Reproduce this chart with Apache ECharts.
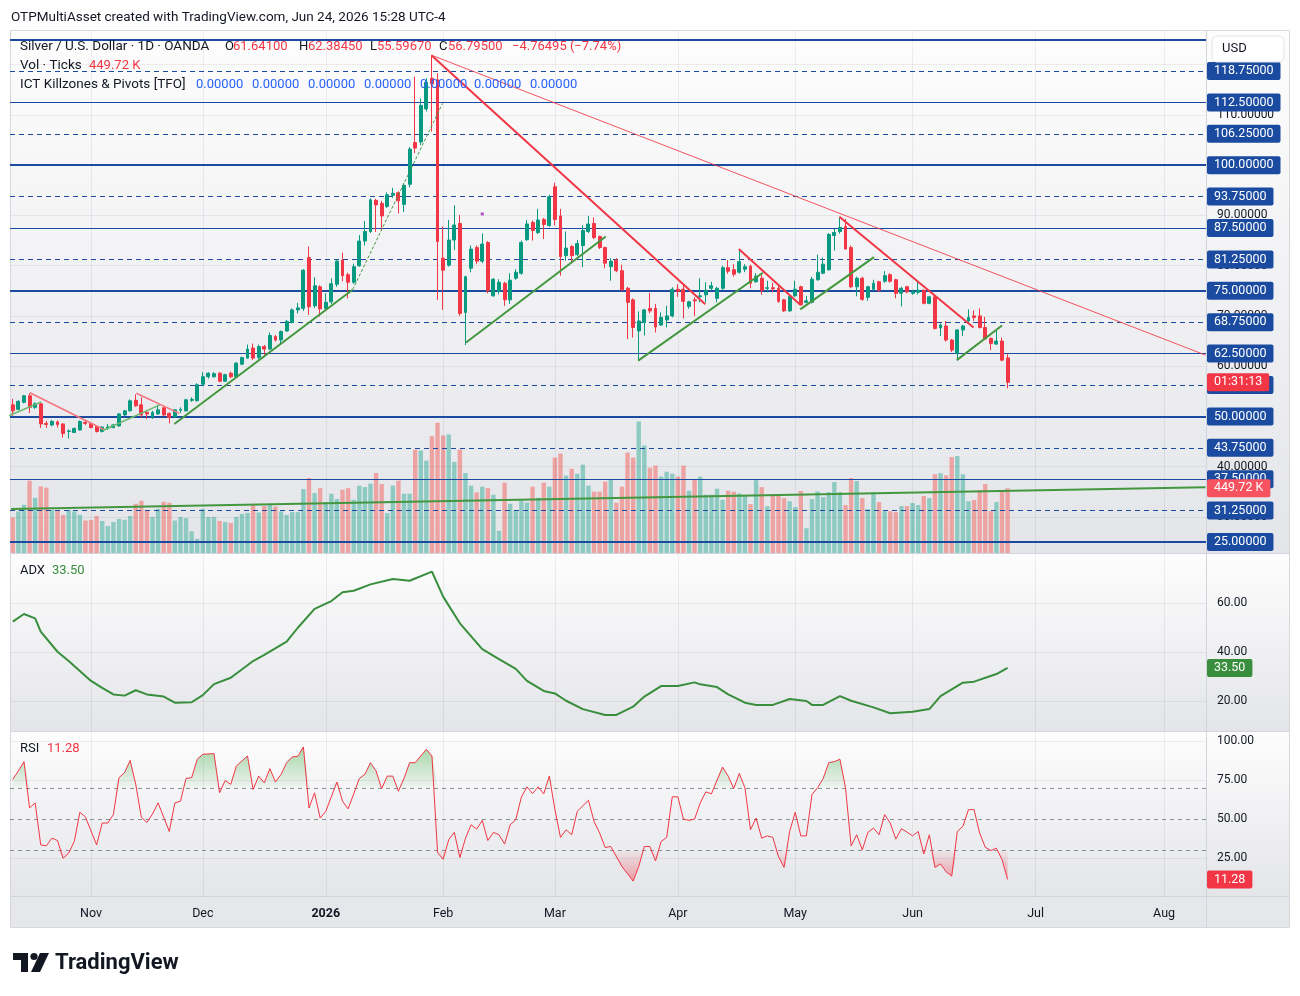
<!DOCTYPE html>
<html>
<head>
<meta charset="utf-8">
<title>Silver / U.S. Dollar - 1D</title>
<script src="https://cdn.jsdelivr.net/npm/echarts@6/dist/echarts.min.js"></script>
<style>
  html, body { margin: 0; padding: 0; background: #ffffff; }
  #chart { width: 1300px; height: 996px; }
</style>
</head>
<body>
<div id="chart"></div>
<script>
// ---- data ----
const N = 214; // bar slots on the time axis, incl. empty space to the right
const monthIdx = [14, 34, 56, 77, 97, 119, 140, 161, 183, 206];
const monthNames = ['Nov', 'Dec', '2026', 'Feb', 'Mar', 'Apr', 'May', 'Jun', 'Jul', 'Aug'];

// [open, close, low, high] per daily bar
const candles = [
  [52.3, 51.1, 50.1, 53.5], [51.4, 53.0, 51.2, 53.2], [52.8, 54.1, 52.6, 54.3], [54.1, 51.8, 50.7, 54.6],
  [51.8, 52.5, 51.5, 52.8], [52.5, 48.5, 47.7, 52.6], [48.6, 48.4, 47.7, 49.1], [48.3, 49.0, 48.0, 49.3],
  [48.9, 48.4, 47.8, 49.2], [48.5, 46.6, 45.8, 48.6], [47.0, 47.1, 45.6, 47.4], [46.8, 47.6, 46.7, 47.8],
  [47.3, 49.0, 47.2, 49.2], [48.8, 48.6, 48.3, 49.3], [48.6, 47.8, 47.6, 48.8], [48.0, 47.0, 46.8, 48.2],
  [47.0, 47.9, 46.8, 48.0], [47.7, 47.9, 47.3, 48.5], [47.8, 48.3, 47.6, 48.5], [48.1, 50.5, 48.0, 50.6],
  [50.3, 51.1, 50.1, 51.3], [51.1, 53.1, 51.0, 53.4], [53.2, 52.1, 51.9, 54.4], [52.3, 50.3, 49.8, 53.8],
  [50.8, 50.5, 49.5, 51.1], [49.9, 50.8, 49.5, 51.1], [50.5, 51.3, 50.3, 52.3], [51.7, 50.3, 50.1, 51.9],
  [50.6, 49.8, 48.6, 50.8], [49.9, 51.3, 49.8, 51.4], [51.2, 51.4, 50.7, 51.8], [51.1, 53.3, 51.0, 53.5],
  [53.2, 53.4, 52.9, 53.8], [53.1, 56.3, 53.0, 56.6], [56.4, 57.9, 56.0, 58.8], [57.9, 58.6, 57.5, 58.8],
  [57.9, 58.5, 57.7, 58.8], [58.6, 57.0, 56.8, 58.8], [57.0, 58.3, 56.9, 58.5], [58.6, 57.9, 57.6, 58.9],
  [57.9, 60.6, 57.7, 60.8], [60.4, 61.7, 60.2, 61.9], [61.6, 63.4, 61.5, 64.3], [63.6, 61.6, 61.2, 64.5],
  [61.7, 63.9, 61.3, 64.3], [63.9, 63.4, 62.2, 64.2], [63.4, 66.1, 63.2, 66.7], [65.9, 65.2, 64.9, 66.2],
  [65.2, 66.9, 64.3, 67.1], [67.0, 68.9, 66.8, 69.2], [68.7, 71.2, 68.5, 71.5], [71.2, 71.6, 70.5, 72.6],
  [71.5, 79.1, 71.0, 79.3], [81.6, 71.8, 70.2, 83.8], [72.0, 76.0, 71.6, 77.7], [75.8, 71.4, 69.9, 76.1],
  [71.5, 72.7, 71.2, 74.5], [72.8, 76.4, 72.4, 77.5], [76.3, 80.9, 75.8, 81.3], [81.1, 78.0, 76.9, 82.6],
  [78.2, 76.7, 73.5, 78.6], [76.7, 79.8, 76.4, 80.4], [80.0, 84.9, 79.8, 86.1], [84.9, 86.8, 84.0, 88.9],
  [86.8, 93.1, 86.5, 93.4], [93.0, 92.1, 86.7, 93.3], [92.4, 89.9, 87.0, 92.9], [91.8, 94.1, 91.5, 94.6],
  [94.0, 94.4, 93.5, 95.5], [94.5, 92.9, 90.4, 94.8], [92.2, 96.0, 90.7, 96.4], [96.2, 103.2, 95.6, 103.6],
  [104.5, 103.4, 102.4, 117.6], [104.6, 111.9, 104.0, 113.3], [111.2, 116.5, 110.7, 117.3], [117.3, 116.2, 106.7, 121.9],
  [117.0, 84.8, 73.2, 118.3], [81.5, 79.1, 71.2, 87.8], [80.1, 85.1, 79.8, 89.1], [85.1, 88.1, 83.1, 92.0],
  [88.4, 70.5, 70.0, 90.1], [70.7, 77.8, 64.2, 78.0], [79.5, 83.3, 78.7, 84.0], [83.6, 80.9, 80.3, 84.0],
  [80.9, 84.3, 80.5, 86.4], [84.6, 75.0, 74.5, 84.9], [74.0, 77.3, 73.8, 77.5], [74.9, 76.7, 74.3, 77.3],
  [76.5, 73.2, 72.0, 76.8], [73.2, 77.1, 72.4, 78.5], [77.5, 78.7, 77.2, 79.3], [78.5, 84.6, 78.2, 85.0],
  [85.2, 88.3, 84.9, 89.1], [88.6, 87.0, 85.0, 89.0], [86.6, 89.1, 86.3, 91.3], [89.2, 88.2, 85.3, 89.5],
  [88.0, 93.7, 87.7, 94.1], [95.7, 89.2, 88.0, 96.5], [89.9, 81.8, 78.0, 91.3], [82.0, 83.5, 81.0, 86.8],
  [83.8, 82.0, 80.7, 84.1], [82.2, 84.4, 81.9, 85.1], [84.0, 87.0, 79.7, 88.0], [86.8, 88.3, 86.5, 89.9],
  [88.4, 85.6, 85.3, 89.6], [85.8, 83.6, 83.3, 86.0], [83.6, 80.5, 79.5, 83.8], [79.8, 80.9, 77.0, 81.5],
  [81.1, 79.0, 78.7, 81.5], [79.0, 75.2, 74.9, 80.2], [75.5, 72.7, 65.4, 75.8], [73.2, 67.7, 65.7, 73.5],
  [67.0, 69.0, 61.0, 70.9], [68.7, 71.2, 66.1, 71.4], [71.5, 71.0, 70.5, 74.6], [71.5, 67.8, 66.7, 72.4],
  [68.2, 69.7, 68.0, 70.7], [69.2, 70.0, 67.7, 72.0], [70.0, 75.3, 69.7, 75.7], [75.3, 74.9, 73.8, 76.3],
  [75.3, 72.9, 69.5, 76.3], [71.9, 72.8, 71.4, 73.0], [73.2, 73.0, 70.0, 73.7], [73.8, 74.0, 72.7, 77.5],
  [74.2, 75.1, 72.7, 76.7], [75.5, 76.0, 75.0, 76.8], [73.5, 75.5, 72.7, 75.8], [75.5, 79.6, 75.2, 80.0],
  [79.6, 78.9, 78.4, 81.1], [79.2, 78.3, 77.8, 80.3], [78.7, 80.8, 78.4, 83.1], [79.3, 79.8, 78.7, 80.3],
  [79.9, 76.5, 75.5, 80.2], [76.8, 77.9, 76.6, 78.5], [77.5, 75.1, 74.2, 78.2], [75.5, 75.6, 74.7, 77.0],
  [75.6, 75.4, 74.7, 76.6], [75.5, 72.9, 72.6, 76.3], [73.2, 71.0, 70.8, 73.4], [71.0, 73.9, 70.8, 74.1],
  [74.0, 75.3, 73.8, 77.0], [75.8, 72.2, 72.0, 76.0], [72.7, 73.0, 72.5, 74.0], [72.7, 77.3, 72.5, 77.8],
  [77.2, 78.7, 77.0, 82.2], [78.5, 80.3, 78.3, 81.6], [79.2, 86.2, 79.0, 86.5], [86.0, 86.6, 83.0, 87.3],
  [86.8, 87.6, 86.4, 89.5], [87.8, 83.3, 83.3, 89.3], [83.6, 75.8, 75.5, 84.0], [75.8, 77.5, 73.9, 77.8],
  [77.5, 73.3, 73.0, 77.8], [73.7, 75.8, 73.0, 76.0], [75.3, 76.5, 75.0, 77.2], [76.8, 75.1, 74.8, 77.0],
  [76.9, 78.0, 76.6, 78.9], [78.2, 76.9, 76.6, 78.5], [77.2, 74.5, 73.5, 77.4], [74.5, 75.5, 71.9, 75.8],
  [75.8, 74.8, 74.5, 76.0], [74.5, 74.9, 74.2, 75.2], [74.7, 75.1, 74.3, 77.0], [75.1, 72.5, 72.3, 75.3],
  [72.5, 73.8, 72.3, 74.0], [73.8, 67.5, 67.3, 74.0], [67.6, 68.2, 66.0, 68.5], [68.0, 65.2, 64.9, 69.0],
  [65.2, 63.2, 62.8, 65.4], [62.5, 67.2, 61.1, 67.4], [67.2, 68.0, 66.0, 68.2], [69.0, 69.7, 68.8, 71.3],
  [70.0, 69.7, 69.0, 71.1], [70.0, 67.7, 67.5, 71.5], [67.7, 65.4, 65.2, 69.8], [65.5, 64.5, 63.2, 65.7],
  [64.4, 65.0, 64.2, 67.0], [65.0, 61.2, 61.0, 65.7], [61.641, 56.795, 55.5967, 62.3845]
];

// tick volume, thousands
const volumes = [
  247, 289, 335, 503, 384, 463, 454, 300, 300, 265, 300, 289, 265, 226, 230, 258, 223, 188, 216, 237,
  230, 258, 342, 363, 300, 251, 307, 356, 349, 226, 251, 242, 151, 98, 307, 251, 251, 223, 216, 209,
  251, 272, 279, 335, 282, 328, 342, 323, 289, 265, 284, 284, 444, 521, 417, 451, 354, 412, 375, 440,
  451, 370, 468, 458, 482, 556, 479, 277, 468, 503, 412, 412, 719, 712, 642, 812, 905, 817, 824, 633,
  719, 556, 468, 421, 461, 451, 405, 154, 489, 342, 296, 363, 351, 461, 384, 489, 461, 663, 691, 538,
  586, 551, 614, 468, 426, 426, 496, 512, 349, 461, 698, 663, 914, 747, 593, 607, 531, 565, 551, 531,
  607, 433, 510, 531, 405, 405, 447, 370, 433, 426, 414, 403, 340, 507, 458, 325, 403, 403, 382, 360,
  319, 431, 172, 375, 428, 388, 423, 493, 423, 333, 521, 500, 382, 305, 421, 354, 291, 291, 284, 326,
  326, 347, 333, 396, 382, 547, 554, 540, 667, 674, 547, 360, 368, 437, 479, 291, 354, 437, 449.72
];

// ADX turning points [bar, value]
const adxPoints = [
  [0, 52.4], [2, 55.5], [4, 53.7], [5, 48.3], [8, 40.1], [10, 36.3], [14, 28.2], [16, 25.4], [18, 22.7],
  [20, 22.2], [22, 24.4], [24, 22.7], [27, 21.8], [29, 19.3], [32, 19.5], [34, 22.4], [36, 26.9], [39, 29.5],
  [43, 36.3], [45, 38.8], [49, 44.2], [51, 49.9], [54, 57.6], [57, 60.8], [59, 64.4], [61, 65.0], [64, 67.6],
  [68, 69.8], [71, 69.1], [75, 72.8], [77, 62.6], [80, 51.7], [84, 41.2], [87, 37.1], [90, 33.1], [92, 28.2],
  [95, 24.1], [97, 23.1], [99, 20.1], [102, 16.7], [106, 14.3], [108, 14.3], [111, 17.7], [113, 21.8],
  [116, 26.1], [119, 26.1], [122, 27.6], [123, 26.8], [126, 25.7], [128, 22.7], [131, 19.3], [133, 18.4],
  [136, 18.4], [139, 20.8], [142, 20.0], [143, 18.4], [145, 18.4], [148, 22.0], [150, 20.1], [154, 17.4],
  [157, 15.0], [161, 15.6], [164, 16.7], [166, 22.0], [170, 27.5], [172, 27.9], [176, 31.0], [178, 33.5]
];

// RSI turning points [bar, value]
const rsiPoints = [
  [0, 75.4], [1, 80.8], [2, 86.8], [3, 57.1], [4, 60.3], [5, 33.4], [6, 32.8], [7, 37.7], [8, 36.2], [9, 24.8],
  [10, 28.1], [11, 35.6], [12, 54.3], [13, 51.3], [15, 33.4], [16, 47.4], [17, 47.4], [18, 52.8], [19, 76.5],
  [20, 79.7], [21, 87.6], [22, 72.2], [23, 51.1], [24, 47.8], [25, 53.2], [26, 60.3], [28, 42.0], [29, 60.3],
  [30, 61.4], [31, 76.0], [32, 76.5], [33, 88.3], [34, 91.5], [36, 91.9], [37, 66.8], [38, 74.7], [39, 72.2],
  [40, 84.0], [42, 90.4], [43, 68.9], [44, 77.5], [45, 73.2], [46, 82.3], [47, 73.7], [48, 78.6], [49, 86.1],
  [50, 89.8], [51, 90.2], [52, 96.2], [53, 57.1], [54, 66.8], [55, 50.6], [56, 54.9], [58, 73.7], [59, 61.4],
  [60, 56.5], [61, 66.1], [62, 76.0], [63, 78.6], [64, 86.1], [65, 80.8], [66, 69.4], [67, 77.5], [68, 77.5],
  [69, 67.8], [70, 76.0], [71, 86.1], [72, 86.1], [74, 94.7], [75, 90.4], [76, 28.5], [77, 24.2], [78, 36.7],
  [79, 41.4], [80, 25.3], [81, 37.7], [82, 46.3], [83, 43.5], [84, 49.1], [85, 36.2], [86, 41.4], [87, 39.9],
  [88, 33.9], [89, 46.3], [90, 49.6], [91, 64.0], [92, 70.6], [93, 66.3], [94, 70.6], [95, 66.1], [96, 77.5],
  [97, 56.0], [98, 38.2], [99, 43.1], [100, 39.9], [101, 54.9], [103, 62.0], [104, 48.5], [105, 41.0],
  [106, 31.7], [107, 32.4], [109, 19.5], [111, 10.2], [112, 19.5], [113, 32.4], [114, 32.4], [115, 23.1],
  [116, 35.6], [117, 38.2], [118, 64.2], [119, 64.2], [120, 50.0], [121, 49.1], [122, 50.0], [123, 60.3],
  [124, 67.4], [125, 66.1], [127, 83.3], [128, 77.5], [129, 69.6], [130, 79.2], [131, 70.0], [132, 43.1],
  [133, 50.6], [134, 37.7], [135, 39.2], [136, 38.2], [137, 25.9], [138, 19.0], [139, 42.0], [140, 54.3],
  [141, 39.2], [142, 39.2], [143, 65.7], [144, 70.0], [145, 76.0], [146, 86.1], [147, 86.8], [148, 88.3],
  [149, 70.0], [150, 32.8], [151, 39.9], [152, 30.2], [153, 41.4], [154, 44.2], [155, 39.9], [156, 52.8],
  [157, 47.4], [158, 37.1], [159, 43.8], [160, 41.6], [161, 39.2], [162, 42.0], [163, 27.6], [164, 39.9],
  [165, 19.0], [166, 21.2], [167, 16.2], [168, 13.4], [169, 42.0], [170, 45.3], [171, 56.0], [172, 56.0],
  [173, 41.0], [174, 31.9], [175, 29.8], [176, 31.3], [177, 24.0], [178, 11.28]
];

// horizontal price levels drawn on the chart
const levelValues = [125, 118.75, 112.5, 106.25, 100, 93.75, 87.5, 81.25, 75, 68.75, 62.5, 56.25, 50, 43.75, 37.5, 31.25, 25];
const levelKinds = ['thick', 'dash', 'thin', 'dash', 'thick', 'dash', 'thin', 'dash', 'thick', 'dash', 'thin', 'dash', 'thick', 'dash', 'thin', 'dash', 'thick'];

// hand-drawn trend lines: [[bar, price], [bar, price]]
const redTrends = [[[74.9, 121.9], [123.9, 72.3]], [[129.9, 83.3], [140.9, 72.2]], [[147.9, 89.75], [171.9, 67.7]]];
const pinkTrends = [[[3.05, 54.7], [16.45, 47.3]], [[22.1, 54.6], [29.8, 50.6]]];
const longRedTrend = [[74.9, 121.9], [213.4, 62.2]];
const greenTrends = [
  [[28.9, 48.5], [60.8, 75.2]], [[81.1, 64.7], [106.1, 85.8]], [[111.9, 61.1], [134.2, 78.6]],
  [[140.9, 71.3], [154.1, 81.7]], [[168.9, 61.2], [177.0, 68.1]], [[-0.3, 31.57], [213.4, 35.9]]
];
const lightGreenTrends = [[[-0.8, 50.1], [5.1, 52.9]], [[16.1, 47.2], [26.3, 52.3]]];
const dashedGreenTrend = [[60.8, 75.2], [76.9, 112.3]];
const purpleDot = [[84, 90.3]];

const priceTicks = [30, 40, 50, 60, 70, 80, 90, 100, 110, 120];
const adxTicks = [20, 40, 60];
const rsiTicks = [25, 50, 75, 100];

// ---- styling ----
const FONT = 'Roboto, "Noto Sans", "DejaVu Sans", sans-serif';
const TEXT = '#131722';
const UP = '#089981';
const DOWN = '#f23645';
const LEVEL_BLUE = '#1a4ba0';
const GRID_FAINT = 'rgba(42,46,57,0.07)';
const HIDDEN_LINE = { width: 0, color: 'rgba(0,0,0,0)' };

const cats = Array.from({ length: N }, (_, i) => String(i));

function labelBox(text, bg) {
    return {
        show: true, position: 'end', formatter: text, distance: 1,
        color: '#ffffff', backgroundColor: bg, padding: [2, 7, 2, 7],
        lineHeight: 14, fontSize: 12.5, fontFamily: FONT, borderRadius: 2
    };
}

function trendSeries(pts, color, width, type, z) {
    return {
        type: 'line', xAxisIndex: 3, yAxisIndex: 0, data: pts, symbol: 'none', silent: true,
        lineStyle: { color, width, type: type || 'solid' }, z: z || 6
    };
}

function markerSeries(xAxisIndex, yAxisIndex, lines, z) {
    return {
        type: 'line', xAxisIndex, yAxisIndex, data: [], silent: true, z,
        markLine: { symbol: ['none', 'none'], silent: true, animation: false, data: lines }
    };
}

const hFaint = (values) => values.map(v => ({ yAxis: v, lineStyle: { color: GRID_FAINT, width: 1, type: 'solid' }, label: { show: false } }));
const vFaint = monthIdx.map(i => ({ xAxis: i, lineStyle: { color: GRID_FAINT, width: 1, type: 'solid' }, label: { show: false } }));

const levelLines = levelValues.map((v, k) => {
    const kind = levelKinds[k];
    const lineStyle = kind === 'thick'
        ? { color: LEVEL_BLUE, width: 2, type: 'solid' }
        : kind === 'thin'
            ? { color: LEVEL_BLUE, width: 1, type: 'solid' }
            : { color: LEVEL_BLUE, width: 1, type: [5, 4] };
    return { yAxis: v, lineStyle, label: v === 125 ? { show: false } : labelBox(v.toFixed(5), LEVEL_BLUE) };
});

const volumeData = volumes.map((v, i) => ({
    value: v,
    itemStyle: { color: candles[i][1] >= candles[i][0] ? '#8ccac2' : '#eea3a3' }
}));

const catAxis = (gridIndex, showLabels) => ({
    type: 'category', gridIndex, data: cats, boundaryGap: true,
    axisLine: { show: false }, axisTick: { show: false }, splitLine: { show: false },
    axisLabel: showLabels ? {
        show: true, interval: 0, margin: 10, color: TEXT, fontSize: 12.5, fontFamily: FONT,
        formatter: (val, idx) => {
            const k = monthIdx.indexOf(idx);
            if (k < 0) return '';
            return monthNames[k] === '2026' ? '{b|2026}' : monthNames[k];
        },
        rich: { b: { fontWeight: 'bold', fontSize: 12.5, color: TEXT, fontFamily: FONT } }
    } : { show: false }
});

const valAxis = (gridIndex, min, max, ticks, digits) => ({
    type: 'value', gridIndex, min, max, position: 'right',
    axisLine: { show: false }, axisTick: { show: false }, splitLine: { show: false },
    axisLabel: {
        show: true, customValues: ticks, margin: 11, color: TEXT, fontSize: 12, fontFamily: FONT,
        formatter: v => Number(v).toFixed(digits)
    }
});

const greenFill = new echarts.graphic.LinearGradient(0, 0, 0, 1, [
    { offset: 0, color: 'rgba(76,175,80,0.7)' }, { offset: 1, color: 'rgba(76,175,80,0.05)' }
]);
const redFill = new echarts.graphic.LinearGradient(0, 0, 0, 1, [
    { offset: 0, color: 'rgba(242,54,69,0.04)' }, { offset: 1, color: 'rgba(242,54,69,0.6)' }
]);

function paneBg(y, h) {
    return {
        type: 'rect', z: -100, silent: true, shape: { x: 10, y, width: 1279, height: h },
        style: {
            fill: new echarts.graphic.LinearGradient(0, 0, 0, 1, [
                { offset: 0, color: '#fdfdfd' }, { offset: 1, color: '#e4e5e9' }
            ])
        }
    };
}

function txt(x, y, text, fill, size, weight, z) {
    return {
        type: 'text', x, y, z: z || 100, silent: true,
        style: { text, fill, fontSize: size || 13, fontFamily: FONT, fontWeight: weight || 'normal', verticalAlign: 'middle' }
    };
}

function hLine(y, x1, x2, color) {
    return { type: 'line', z: -50, silent: true, shape: { x1, y1: y, x2, y2: y }, style: { stroke: color, lineWidth: 1 } };
}

const legendZeros = [196, 252, 308, 364, 420, 474, 530].map(x => txt(x, 85, '0.00000', '#2962ff', 13));

const graphics = [
    paneBg(31, 522), paneBg(554, 177), paneBg(732, 165),
    { type: 'rect', z: -100, silent: true, shape: { x: 10, y: 897, width: 1279, height: 31 }, style: { fill: '#e6e7eb' } },
    { type: 'rect', z: -40, silent: true, shape: { x: 10.5, y: 30.5, width: 1279, height: 897 }, style: { fill: 'none', stroke: '#d6d8de', lineWidth: 1 } },
    hLine(553.5, 10, 1289, '#d1d4dc'), hLine(731.5, 10, 1289, '#d1d4dc'), hLine(896.5, 10, 1289, '#d1d4dc'),
    { type: 'line', z: -50, silent: true, shape: { x1: 1206.5, y1: 31, x2: 1206.5, y2: 928 }, style: { stroke: '#d1d4dc', lineWidth: 1 } },

    txt(11, 18, 'OTPMultiAsset created with TradingView.com, Jun 24, 2026 15:28 UTC-4', TEXT, 13.5),
    txt(20, 47, 'Silver / U.S. Dollar · 1D · OANDA', TEXT, 13.5),
    txt(225, 47, 'O', TEXT, 13), txt(233, 47, '61.64100', DOWN, 13),
    txt(299, 47, 'H', TEXT, 13), txt(308, 47, '62.38450', DOWN, 13),
    txt(370, 47, 'L', TEXT, 13), txt(377, 47, '55.59670', DOWN, 13),
    txt(439, 47, 'C', TEXT, 13), txt(448, 47, '56.79500', DOWN, 13),
    txt(512, 47, '−4.76495 (−7.74%)', DOWN, 13),
    txt(20, 66, 'Vol · Ticks', TEXT, 13.5), txt(89, 66, '449.72 K', DOWN, 13),
    txt(20, 85, 'ICT Killzones & Pivots [TFO]', TEXT, 13.5),
    ...legendZeros,
    txt(20, 571, 'ADX', TEXT, 13), txt(52, 571, '33.50', '#388e3c', 13),
    txt(20, 749, 'RSI', TEXT, 13), txt(47, 749, '11.28', DOWN, 13),

    { type: 'rect', z: 110, silent: true, shape: { x: 1212, y: 36, width: 72, height: 26, r: 5 }, style: { fill: '#ffffff', stroke: '#e0e3eb', lineWidth: 1 } },
    txt(1222, 49, 'USD', TEXT, 13, 'normal', 120),

    { type: 'polygon', z: 100, silent: true, shape: { points: [[13, 953], [28, 953], [28, 972], [21, 972], [21, 960], [13, 960]] }, style: { fill: TEXT } },
    { type: 'circle', z: 100, silent: true, shape: { cx: 34, cy: 956.5, r: 3.6 }, style: { fill: TEXT } },
    { type: 'polygon', z: 100, silent: true, shape: { points: [[40, 953], [49, 953], [40, 972], [31, 972]] }, style: { fill: TEXT } },
    { type: 'text', x: 55, y: 963, z: 100, silent: true, style: { text: 'TradingView', fill: TEXT, fontSize: 22, fontWeight: 'bold', fontFamily: FONT, verticalAlign: 'middle' } }
];

const chart = echarts.init(document.getElementById('chart'), null, { renderer: 'canvas' });

chart.setOption({
    animation: false,
    textStyle: { fontFamily: FONT },
    grid: [
        { left: 10, width: 1196, top: 31, height: 522 },
        { left: 10, width: 1196, top: 554, height: 177 },
        { left: 10, width: 1196, top: 732, height: 165 }
    ],
    xAxis: [
        catAxis(0, false),
        catAxis(1, false),
        catAxis(2, true),
        { type: 'value', gridIndex: 0, min: -0.5, max: N - 0.5, show: false, splitLine: { show: false } }
    ],
    yAxis: [
        valAxis(0, 22.81, 126.71, priceTicks, 5),
        { type: 'value', gridIndex: 0, min: 0, max: 3628, show: false, splitLine: { show: false } },
        valAxis(1, 7.76, 80, adxTicks, 2),
        valAxis(2, 0, 105.77, rsiTicks, 2)
    ],
    series: [
        // faint grid of the price pane
        markerSeries(3, 0, hFaint(priceTicks).concat(monthIdx.map(i => ({
            xAxis: i, lineStyle: { color: GRID_FAINT, width: 1, type: 'solid' }, label: { show: false }
        }))), 1),
        {
            type: 'bar', xAxisIndex: 0, yAxisIndex: 1, data: volumeData, barWidth: 4.4,
            silent: true, z: 2
        },
        markerSeries(3, 0, levelLines, 4),
        {
            type: 'candlestick', xAxisIndex: 0, yAxisIndex: 0, data: candles, barWidth: 3.4, silent: true, z: 5,
            itemStyle: { color: UP, color0: DOWN, borderColor: UP, borderColor0: DOWN, borderWidth: 1 }
        },
        ...redTrends.map(p => trendSeries(p, '#f23645', 2)),
        ...pinkTrends.map(p => trendSeries(p, '#f5747f', 1.5)),
        trendSeries(longRedTrend, 'rgba(242,54,69,0.85)', 1),
        ...greenTrends.map(p => trendSeries(p, '#43973f', 2)),
        ...lightGreenTrends.map(p => trendSeries(p, '#6cb96a', 1.5)),
        trendSeries(dashedGreenTrend, '#43973f', 1, [3, 2]),
        {
            type: 'scatter', xAxisIndex: 3, yAxisIndex: 0, data: purpleDot, symbol: 'rect', symbolSize: 3,
            itemStyle: { color: '#9c27b0' }, silent: true, z: 6
        },
        // price countdown + volume value labels
        markerSeries(3, 0, [{ yAxis: 56.795, lineStyle: HIDDEN_LINE, label: labelBox('01:31:13', '#f23645') }], 20),
        markerSeries(3, 1, [{ yAxis: 449.72, lineStyle: HIDDEN_LINE, label: labelBox('449.72 K', '#f7525f') }], 21),

        // ADX pane
        {
            type: 'line', xAxisIndex: 1, yAxisIndex: 2, data: adxPoints, symbol: 'none', silent: true, z: 5,
            lineStyle: { color: '#388e3c', width: 2 },
            markLine: {
                symbol: ['none', 'none'], silent: true, animation: false,
                data: hFaint(adxTicks).concat(vFaint).concat([
                    { yAxis: 33.5, lineStyle: HIDDEN_LINE, label: labelBox('33.50', '#388e3c') }
                ])
            }
        },

        // RSI pane
        {
            type: 'line', xAxisIndex: 2, yAxisIndex: 3, data: rsiPoints.map(([i, v]) => [i, Math.max(v, 70)]),
            symbol: 'none', silent: true, z: 3, lineStyle: { width: 0 },
            areaStyle: { origin: 70, color: greenFill }
        },
        {
            type: 'line', xAxisIndex: 2, yAxisIndex: 3, data: rsiPoints.map(([i, v]) => [i, Math.min(v, 30)]),
            symbol: 'none', silent: true, z: 3, lineStyle: { width: 0 },
            areaStyle: { origin: 30, color: redFill }
        },
        {
            type: 'line', xAxisIndex: 2, yAxisIndex: 3, data: rsiPoints, symbol: 'none', silent: true, z: 5,
            lineStyle: { color: '#f23645', width: 1 },
            markLine: {
                symbol: ['none', 'none'], silent: true, animation: false,
                data: hFaint([25, 75, 100]).concat(vFaint).concat(
                    [70, 50, 30].map(v => ({ yAxis: v, lineStyle: { color: '#8a8d96', width: 1, type: [4, 4] }, label: { show: false } }))
                ).concat([
                    { yAxis: 11.28, lineStyle: HIDDEN_LINE, label: labelBox('11.28', '#f23645') }
                ])
            }
        }
    ],
    graphic: { elements: graphics }
});
</script>
</body>
</html>
